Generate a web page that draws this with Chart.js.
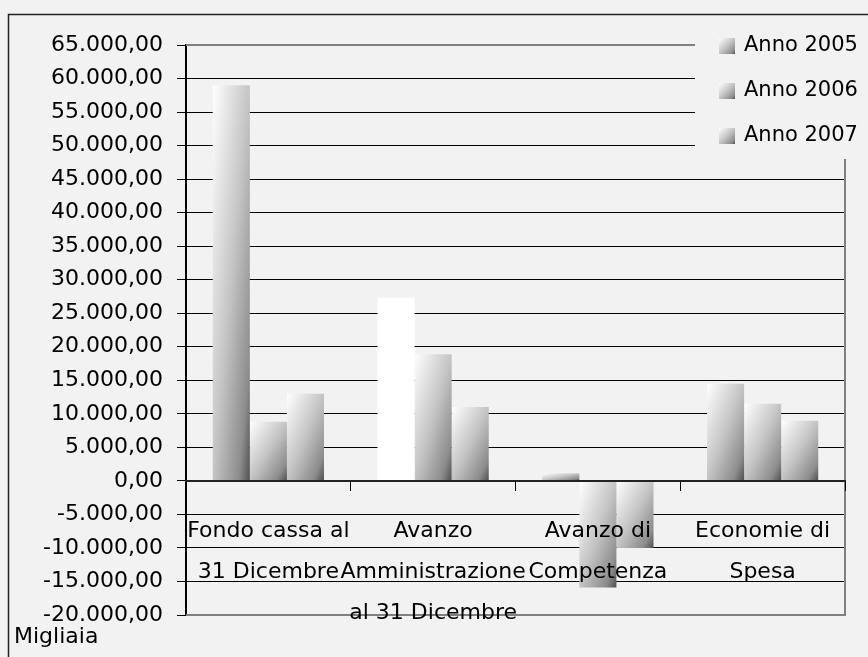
<!DOCTYPE html>
<html>
<head>
<meta charset="utf-8">
<script src="https://cdn.jsdelivr.net/npm/chart.js@4/dist/chart.umd.min.js"></script>
<style>
  html, body { margin: 0; padding: 0; background: #f2f2f2; overflow: hidden; }
  canvas { display: block; }
</style>
</head>
<body>
<canvas id="c" width="868" height="657"></canvas>
<script>
// ---- data ----
const categories = [
  ["Fondo cassa al", "31 Dicembre"],
  ["Avanzo", "Amministrazione", "al 31 Dicembre"],
  ["Avanzo di", "Competenza"],
  ["Economie di", "Spesa"]
];
const seriesNames = ["Anno 2005", "Anno 2006", "Anno 2007"];
const anno2005 = [59000, 27300, 1150, 14500];
const anno2006 = [8800, 18900, -15900, 11500];
const anno2007 = [13000, 11000, -10000, 8950];
const yMin = -20000, yMax = 65000, yStep = 5000;
const unitLabel = "Migliaia";

const FONT = "'DejaVu Sans', sans-serif";

function fmt(v) {
  const neg = v < 0;
  const s = Math.round(Math.abs(v)).toString().replace(/\B(?=(\d{3})+(?!\d))/g, ".");
  return (neg ? "-" : "") + s + ",00";
}

function makeGrad(ctx, l, t, w, h) {
  if (h < 1) h = 1;
  if (w < 1) w = 1;
  const k = 2 * w * h / (h * h + w * w);
  const g = ctx.createLinearGradient(l, t, l + k * h, t + k * w);
  g.addColorStop(0, '#ffffff');
  g.addColorStop(0.5, '#c4c4c4');
  g.addColorStop(0.85, '#8c8c8c');
  g.addColorStop(1, '#505050');
  return g;
}

const gradientPlugin = {
  id: 'barGradients',
  beforeDatasetsDraw(chart) {
    const ctx = chart.ctx;
    chart.data.datasets.forEach((ds, di) => {
      const meta = chart.getDatasetMeta(di);
      meta.data.forEach((bar, i) => {
        const p = bar.getProps(['x', 'y', 'base', 'width'], true);
        const left = p.x - p.width / 2;
        const top = Math.min(p.y, p.base);
        const h = Math.abs(p.base - p.y);
        bar.options.backgroundColor = (di === 0 && i === 1) ? '#ffffff' : makeGrad(ctx, left, top, p.width, h);
      });
    });
  }
};

const framePlugin = {
  id: 'frame',
  beforeDraw(chart) {
    const ctx = chart.ctx;
    ctx.save();
    ctx.fillStyle = '#f2f2f2';
    ctx.fillRect(0, 0, chart.width, chart.height);
    ctx.restore();
  },
  afterDatasetsDraw(chart) {
    const ctx = chart.ctx;
    const a = chart.chartArea;
    ctx.save();
    ctx.strokeStyle = '#808080';
    ctx.lineWidth = 2;
    ctx.beginPath();
    ctx.moveTo(a.left, a.top);
    ctx.lineTo(a.right, a.top);
    ctx.lineTo(a.right, a.bottom);
    ctx.lineTo(a.left, a.bottom);
    ctx.stroke();
    ctx.restore();
  },
  afterDraw(chart) {
    const ctx = chart.ctx;
    ctx.save();
    // legend box (covers the top-right of the plot)
    ctx.fillStyle = '#f2f2f2';
    ctx.fillRect(695, 18, 173, 141);
    ctx.font = "21px " + FONT;
    ctx.textBaseline = 'middle';
    ctx.textAlign = 'left';
    ctx.fillStyle = '#000';
    seriesNames.forEach((name, i) => {
      const cy = 46 + i * 45;
      ctx.fillStyle = makeGrad(ctx, 719, cy - 8, 16, 16);
      ctx.fillRect(719, cy - 8, 16, 16);
      ctx.fillStyle = '#000';
      ctx.fillText(name, 744, cy);
    });
    // unit label
    ctx.font = "22px " + FONT;
    ctx.textBaseline = 'alphabetic';
    ctx.fillText(unitLabel, 14, 643);
    // outer frame
    ctx.strokeStyle = '#222';
    ctx.lineWidth = 1.5;
    ctx.beginPath();
    ctx.moveTo(8.5, 700);
    ctx.lineTo(8.5, 14.5);
    ctx.lineTo(900, 14.5);
    ctx.stroke();
    ctx.restore();
  }
};

new Chart(document.getElementById('c'), {
  type: 'bar',
  data: {
    labels: categories,
    datasets: [
      { label: seriesNames[0], data: anno2005, backgroundColor: () => '#cccccc' },
      { label: seriesNames[1], data: anno2006, backgroundColor: () => '#cccccc' },
      { label: seriesNames[2], data: anno2007, backgroundColor: () => '#cccccc' }
    ]
  },
  options: {
    responsive: false,
    animation: false,
    devicePixelRatio: 1,
    layout: { padding: { top: 45, right: 23, bottom: 42, left: 0 } },
    datasets: { bar: { barPercentage: 1, categoryPercentage: 0.675, borderWidth: 0 } },
    plugins: { legend: { display: false }, tooltip: { enabled: false }, title: { display: false } },
    scales: {
      x: {
        position: { y: 0 },
        offset: true,
        grid: { display: true, drawOnChartArea: false, drawTicks: true, tickLength: 9, color: '#000', offset: true, z: 1 },
        border: { display: true, color: '#222', width: 2, z: 1 },
        ticks: {
          z: 2,
          autoSkip: false, maxRotation: 0, minRotation: 0, padding: 21, color: '#000',
          font: { family: FONT, size: 22, lineHeight: 41 / 22 }
        }
      },
      y: {
        min: yMin, max: yMax,
        afterFit: (s) => { s.width = 186; },
        grid: { color: '#000', lineWidth: 1, drawTicks: true, tickLength: 9, tickColor: '#000' },
        border: { display: true, color: '#000', width: 2 },
        ticks: {
          stepSize: yStep, padding: 14, color: '#000',
          font: { family: FONT, size: 22 },
          callback: (v) => fmt(v)
        }
      }
    }
  },
  plugins: [gradientPlugin, framePlugin]
});
</script>
</body>
</html>
